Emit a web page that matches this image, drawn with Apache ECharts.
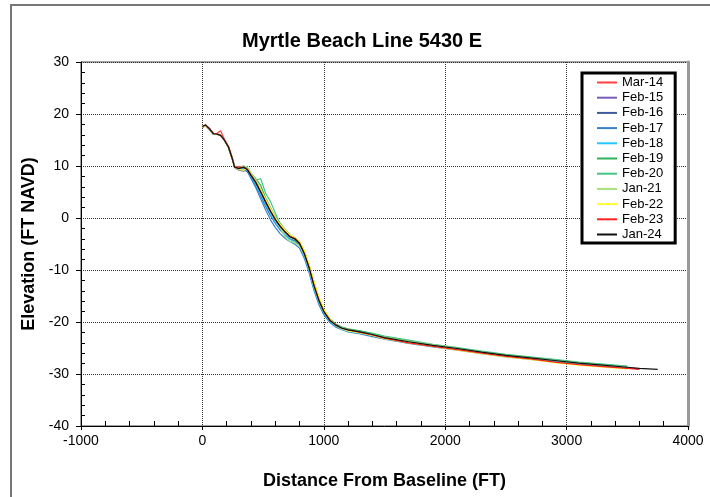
<!DOCTYPE html>
<html lang="en">
<head>
<meta charset="utf-8">
<title>Myrtle Beach Line 5430 E</title>
<script src="https://cdn.jsdelivr.net/npm/echarts@6/dist/echarts.min.js"></script>
<style>
  html, body { margin: 0; padding: 0; background: #fff; }
  #chart { width: 710px; height: 497px; }
</style>
</head>
<body>
<div id="chart"></div>
<script>
// distance from baseline (ft), shared by all surveys
var dist = [0, 25, 60, 90, 120, 150, 180, 215, 245, 265, 300, 340, 370, 400, 440, 480, 520, 560, 600, 640,
            680, 720, 760, 800, 840, 880, 920, 960, 1000, 1050, 1100, 1150, 1200, 1300, 1400, 1500, 1700, 1900,
            2100, 2300, 2500, 2700, 2900, 3100, 3300, 3500, 3600, 3750];

var surveyNames = ['Mar-14', 'Feb-15', 'Feb-16', 'Feb-17', 'Feb-18', 'Feb-19', 'Feb-20', 'Jan-21', 'Feb-22', 'Feb-23', 'Jan-24'];
var surveyColors = ['#ff4040', '#7a5bb5', '#3d5a9e', '#3a80c8', '#22c8ff', '#2fb35a', '#45c486', '#a8e07a', '#ffff33', '#ff2020', '#111111'];

// elevation (ft NAVD) per survey
var elevMar14 = [17.4,17.7,17.0,16.1,16.3,16.8,15.2,13.8,11.7,10.0,9.8,10.0,9.6,8.5,7.1,5.3,3.4,1.6,0.0,-1.3,-2.4,-3.3,-3.9,-4.6,-6.5,-9.2,-12.6,-15.5,-17.7,-19.5,-20.5,-21.1,-21.4,-21.9,-22.5,-23.1,-23.9,-24.6,-25.3,-26.0,-26.6,-27.1,-27.6,-28.1,-28.5,-28.8,-29.0];
var elevFeb15 = [17.5,17.8,17.1,16.2,16.2,16.0,15.1,13.7,11.6,9.7,9.2,9.0,9.5,8.4,7.0,5.2,3.3,1.5,-0.1,-1.4,-2.6,-3.6,-4.1,-5.0,-7.0,-9.9,-13.4,-16.2,-18.2,-19.8,-20.7,-21.2,-21.6,-22.0,-22.5,-23.0,-23.9,-24.6,-25.2,-25.9,-26.5,-27.0,-27.5,-28.0,-28.4,-28.8];
var elevFeb16 = [17.5,17.8,17.0,16.1,16.1,15.9,15.0,13.5,11.4,9.9,9.6,9.3,8.9,7.8,6.2,4.3,2.3,0.5,-1.0,-2.3,-3.3,-4.0,-4.4,-5.3,-7.3,-10.2,-13.7,-16.4,-18.4,-19.9,-20.8,-21.3,-21.7,-22.1,-22.6,-23.1,-23.9,-24.6,-25.3,-25.9,-26.5,-27.0,-27.6,-28.0,-28.4,-28.7];
var elevFeb17 = [17.6,17.9,17.1,16.2,16.1,15.9,15.0,13.6,11.5,9.8,9.4,9.6,9.0,7.6,5.8,3.7,1.6,-0.3,-1.8,-3.0,-3.9,-4.5,-5.0,-5.8,-7.8,-10.6,-14.0,-16.7,-18.6,-20.1,-21.0,-21.5,-21.9,-22.3,-22.8,-23.3,-24.1,-24.8,-25.4,-26.1,-26.7,-27.2,-27.7,-28.1,-28.5,-28.8];
var elevFeb18 = [17.5,17.8,17.0,16.2,16.1,15.9,15.0,13.6,11.5,9.9,9.5,9.4,9.2,8.0,6.4,4.5,2.6,0.8,-0.8,-2.1,-3.2,-4.1,-4.6,-5.4,-7.4,-10.2,-13.6,-16.3,-18.3,-19.9,-20.8,-21.4,-21.8,-22.2,-22.6,-23.1,-23.9,-24.7,-25.3,-26.0,-26.6,-27.1,-27.6,-28.0,-28.3,-28.6];
var elevFeb19 = [17.6,17.9,17.1,16.2,16.1,15.9,15.0,13.6,11.5,9.8,9.6,9.9,9.7,8.6,7.5,6.3,3.9,2.0,0.3,-1.0,-2.2,-3.2,-3.8,-4.5,-6.4,-9.1,-12.5,-15.4,-17.6,-19.4,-20.4,-21.0,-21.3,-21.7,-22.2,-22.8,-23.6,-24.4,-25.0,-25.7,-26.3,-26.8,-27.3,-27.8,-28.2,-28.6];
var elevFeb20 = [17.5,17.8,17.1,16.2,16.1,15.9,15.0,13.6,11.6,9.9,9.7,9.9,9.6,8.4,7.2,7.6,4.8,3.2,1.0,-1.2,-2.6,-3.5,-4.2,-5.0,-6.9,-9.6,-13.0,-15.8,-17.8,-19.5,-20.5,-21.1,-21.4,-21.8,-22.2,-22.7,-23.5,-24.3,-24.9,-25.6,-26.2,-26.7,-27.2,-27.7,-28.1,-28.5];
var elevJan21 = [17.5,17.8,17.1,16.2,16.1,15.9,15.0,13.6,11.5,9.9,9.7,10.0,9.8,8.7,7.3,5.6,3.6,1.8,0.2,-1.8,-3.6,-4.5,-4.7,-5.4,-7.1,-9.9,-13.3,-16.0,-18.1,-19.7,-20.7,-21.2,-21.6,-22.0,-22.4,-22.9,-23.7,-24.4,-25.1,-25.8,-26.4,-26.9,-27.4,-27.9,-28.3,-28.7];
var elevFeb22 = [17.5,17.8,17.1,16.2,16.1,15.9,15.0,13.6,11.5,9.9,9.3,9.2,9.4,8.4,7.0,5.4,3.6,1.8,0.1,-1.2,-2.3,-3.2,-3.8,-4.5,-6.3,-9.0,-12.3,-15.2,-17.5,-19.4,-20.6,-21.3,-21.7,-22.1,-22.6,-23.2,-24.0,-24.7,-25.4,-26.1,-26.7,-27.2,-27.8,-28.3,-28.7,-29.0];
var elevFeb23 = [17.6,17.9,17.2,16.3,16.2,15.9,15.1,13.7,11.5,9.8,9.8,9.7,9.4,8.3,6.9,5.1,3.2,1.4,-0.2,-1.5,-2.6,-3.5,-3.9,-4.8,-6.8,-9.5,-12.9,-15.7,-17.9,-19.6,-20.6,-21.2,-21.5,-22.0,-22.5,-23.1,-24.0,-24.7,-25.3,-26.0,-26.6,-27.1,-27.7,-28.2,-28.6,-28.9,-29.1];
var elevJan24 = [17.6,17.9,17.1,16.2,16.1,15.9,15.0,13.6,11.5,9.8,9.5,9.8,9.3,8.2,6.8,5.0,3.1,1.3,-0.3,-1.6,-2.7,-3.6,-4.0,-4.9,-6.9,-9.7,-13.1,-15.9,-18.0,-19.7,-20.6,-21.2,-21.5,-21.9,-22.4,-23.0,-23.8,-24.5,-25.1,-25.8,-26.4,-26.9,-27.4,-27.9,-28.3,-28.7,-28.9,-29.1];

var elevations = [elevMar14, elevFeb15, elevFeb16, elevFeb17, elevFeb18, elevFeb19, elevFeb20, elevJan21, elevFeb22, elevFeb23, elevJan24];

var chart = echarts.init(document.getElementById('chart'));

var series = [];
for (var i = 0; i < surveyNames.length; i++) {
    series.push({
        name: surveyNames[i],
        type: 'line',
        symbol: 'none',
        animation: false,
        color: surveyColors[i],
        lineStyle: { width: 1.2, color: surveyColors[i] },
        data: elevations[i].map(function (v, k) { return [dist[k], v]; })
    });
}

var plain = function (v) { return String(v); };
var labelFont = { color: '#000', fontFamily: 'Liberation Sans, Arial', fontSize: 14 };
var nameFont = { color: '#000', fontFamily: 'Liberation Sans, Arial', fontSize: 18, fontWeight: 'bold' };

chart.setOption({
    backgroundColor: '#fff',
    animation: false,
    title: {
        text: 'Myrtle Beach Line 5430 E',
        left: 237,
        top: 26,
        textStyle: { fontFamily: 'Liberation Sans, Arial', fontSize: 20, fontWeight: 'bold', color: '#000' }
    },
    graphic: [{
        type: 'rect',
        shape: { x: 11, y: 5, width: 760, height: 560 },
        style: { fill: 'none', stroke: '#777', lineWidth: 2 },
        silent: true
    }],
    legend: {
        orient: 'vertical',
        left: 582,
        top: 73,
        data: surveyNames,
        itemWidth: 20,
        itemHeight: 12,
        itemGap: 2.2,
        padding: [3, 12, 2, 14],
        borderColor: '#000',
        borderWidth: 3,
        backgroundColor: '#fff',
        itemStyle: { opacity: 0 },
        textStyle: { fontFamily: 'Liberation Sans, Arial', fontSize: 13, color: '#000' }
    },
    grid: {
        left: 81, right: 22, top: 62, bottom: 71,
        show: true,
        borderColor: '#444',
        borderWidth: 1
    },
    xAxis: {
        type: 'value',
        min: -1000, max: 4000, interval: 1000,
        name: 'Distance From Baseline (FT)',
        nameLocation: 'middle',
        nameGap: 46,
        nameTextStyle: nameFont,
        axisLine: { onZero: false, lineStyle: { color: '#000', width: 1 } },
        axisTick: { show: true, length: 4, lineStyle: { color: '#000' } },
        minorTick: { show: true, splitNumber: 5, length: -5, lineStyle: { color: '#000' } },
        axisLabel: Object.assign({ margin: 8, formatter: plain }, labelFont),
        splitLine: { show: true, lineStyle: { type: 'dotted', color: '#333', width: 1 } }
    },
    yAxis: [{
        type: 'value',
        min: -40, max: 30, interval: 10,
        name: 'Elevation (FT NAVD)',
        nameLocation: 'middle',
        nameGap: 42,
        nameTextStyle: nameFont,
        axisLine: { onZero: false, lineStyle: { color: '#000', width: 1 } },
        axisTick: { show: true, length: 5, lineStyle: { color: '#000' } },
        minorTick: { show: true, splitNumber: 5, length: -4, lineStyle: { color: '#000' } },
        axisLabel: Object.assign({ margin: 12, formatter: plain }, labelFont),
        splitLine: { show: true, lineStyle: { type: 'dotted', color: '#333', width: 1 } }
    }, {
        type: 'value',
        position: 'right',
        min: -40, max: 30, interval: 10,
        axisLine: { show: true, onZero: false, lineStyle: { color: '#999', width: 3 } },
        axisTick: { show: false },
        axisLabel: { show: false },
        splitLine: { show: false }
    }],
    series: series
});
</script>
</body>
</html>
